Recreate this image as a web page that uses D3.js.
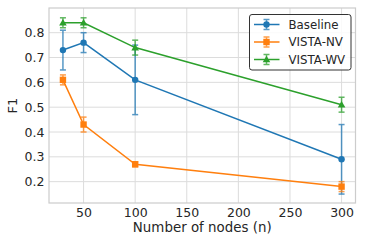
<!DOCTYPE html>
<html><head><meta charset="utf-8">
<script src="https://cdn.jsdelivr.net/npm/d3@7"></script>
<style>
html,body{margin:0;padding:0;background:#fff;}
svg{display:block;font-family:"DejaVu Sans",sans-serif;}
</style></head>
<body>
<svg id="chart" width="365" height="243"></svg>
<script>
const nodes = [30, 50, 100, 300];
const baseline = [0.73, 0.76, 0.61, 0.29];
const baselineErr = [0.08, 0.04, 0.14, 0.14];
const vistaNV = [0.61, 0.43, 0.27, 0.18];
const vistaNVErr = [0.02, 0.03, 0.01, 0.02];
const vistaWV = [0.84, 0.84, 0.74, 0.51];
const vistaWVErr = [0.02, 0.02, 0.03, 0.03];
const xTicks = [50, 100, 150, 200, 250, 300];
const yTicks = [0.2, 0.3, 0.4, 0.5, 0.6, 0.7, 0.8];
const seriesNames = ["Baseline", "VISTA-NV", "VISTA-WV"];
const colors = ["#1f77b4", "#ff7f0e", "#2ca02c"];
const shapes = ["circle", "square", "triangle"];

const series = [
  {name: seriesNames[0], values: baseline, err: baselineErr, color: colors[0], shape: shapes[0]},
  {name: seriesNames[1], values: vistaNV, err: vistaNVErr, color: colors[1], shape: shapes[1]},
  {name: seriesNames[2], values: vistaWV, err: vistaWVErr, color: colors[2], shape: shapes[2]}
];

const svg = d3.select("#chart");
const L = 49, R = 355.5, T = 8, B = 203;
const x = d3.scaleLinear().domain([16.5, 313.5]).range([L, R]);
const y = d3.scaleLinear().domain([0.114, 0.8995]).range([B, T]);

// grid
const g = svg.append("g");
g.selectAll(".gx").data(xTicks).enter().append("line")
  .attr("x1", d => x(d)).attr("x2", d => x(d)).attr("y1", T).attr("y2", B)
  .attr("stroke", "#dcdcdc").attr("stroke-width", 1);
g.selectAll(".gy").data(yTicks).enter().append("line")
  .attr("x1", L).attr("x2", R).attr("y1", d => y(d)).attr("y2", d => y(d))
  .attr("stroke", "#dcdcdc").attr("stroke-width", 1);

// axes (labels only)
const xAxis = d3.axisBottom(x).tickValues(xTicks).tickSize(0).tickPadding(5.5).tickFormat(d3.format("d"));
const yAxis = d3.axisLeft(y).tickValues(yTicks).tickSize(0).tickPadding(4.5).tickFormat(d3.format(".1f"));
const gx = svg.append("g").attr("transform", `translate(0,${B})`).call(xAxis);
const gy = svg.append("g").attr("transform", `translate(${L},0)`).call(yAxis);
[gx, gy].forEach(a => {
  a.select(".domain").remove();
  a.selectAll("text").attr("font-size", 12.5).attr("fill", "#262626").attr("font-family", "DejaVu Sans");
});
gx.selectAll("text").attr("dy", "0.71em");

// frame
svg.append("rect").attr("x", L).attr("y", T).attr("width", R - L).attr("height", B - T)
  .attr("fill", "none").attr("stroke", "#cccccc").attr("stroke-width", 1.2);

// labels
svg.append("text").attr("x", (L + R) / 2).attr("y", 232).attr("text-anchor", "middle")
  .attr("font-size", 13.4).attr("fill", "#262626").text("Number of nodes (n)");
svg.append("text").attr("transform", `translate(17,${(T + B) / 2}) rotate(-90)`).attr("text-anchor", "middle")
  .attr("font-size", 13).attr("fill", "#262626").text("F1");

function marker(sel, shape, cx, cy, color) {
  if (shape === "circle") {
    sel.append("circle").attr("cx", cx).attr("cy", cy).attr("r", 3.2).attr("fill", color);
  } else if (shape === "square") {
    sel.append("rect").attr("x", cx - 3.2).attr("y", cy - 3.2).attr("width", 6.4).attr("height", 6.4).attr("fill", color);
  } else {
    const s = 3.8;
    sel.append("path").attr("d", `M${cx},${cy - s}L${cx + s},${cy + s * 0.75}L${cx - s},${cy + s * 0.75}Z`).attr("fill", color);
  }
}

const line = d3.line().x(d => x(d[0])).y(d => y(d[1]));
series.forEach(s => {
  const sg = svg.append("g");
  const pts = nodes.map((n, i) => [n, s.values[i], s.err[i]]);
  const eg = sg.append("g").attr("stroke", s.color).attr("stroke-width", 1.5).attr("opacity", 0.75);
  pts.forEach(p => {
    const cx = x(p[0]), y1 = y(p[1] + p[2]), y2 = y(p[1] - p[2]);
    eg.append("line").attr("x1", cx).attr("x2", cx).attr("y1", y1).attr("y2", y2);
    eg.append("line").attr("x1", cx - 3).attr("x2", cx + 3).attr("y1", y1).attr("y2", y1);
    eg.append("line").attr("x1", cx - 3).attr("x2", cx + 3).attr("y1", y2).attr("y2", y2);
  });
  sg.append("path").datum(pts).attr("d", line).attr("fill", "none")
    .attr("stroke", s.color).attr("stroke-width", 1.5);
  pts.forEach(p => marker(sg, s.shape, x(p[0]), y(p[1]), s.color));
});

// legend
const lg = svg.append("g");
lg.append("rect").attr("x", 249.5).attr("y", 14.5).attr("width", 101.5).attr("height", 55.5)
  .attr("rx", 2.5).attr("fill", "rgba(255,255,255,0.85)").attr("stroke", "#333").attr("stroke-width", 1);
series.forEach((s, i) => {
  const cy = 24.5 + i * 17.5;
  const eg = lg.append("g").attr("stroke", s.color).attr("stroke-width", 1.5).attr("opacity", 0.75);
  eg.append("line").attr("x1", 266.5).attr("x2", 266.5).attr("y1", cy - 5).attr("y2", cy + 5);
  eg.append("line").attr("x1", 263.5).attr("x2", 269.5).attr("y1", cy - 5).attr("y2", cy - 5);
  eg.append("line").attr("x1", 263.5).attr("x2", 269.5).attr("y1", cy + 5).attr("y2", cy + 5);
  lg.append("line").attr("x1", 254).attr("x2", 279.5).attr("y1", cy).attr("y2", cy)
    .attr("stroke", s.color).attr("stroke-width", 1.5);
  marker(lg, s.shape, 266.5, cy, s.color);
  lg.append("text").attr("x", 288.5).attr("y", cy).attr("dy", "0.36em")
    .attr("font-size", 11.8).attr("fill", "#262626").text(s.name);
});
</script>
</body></html>
